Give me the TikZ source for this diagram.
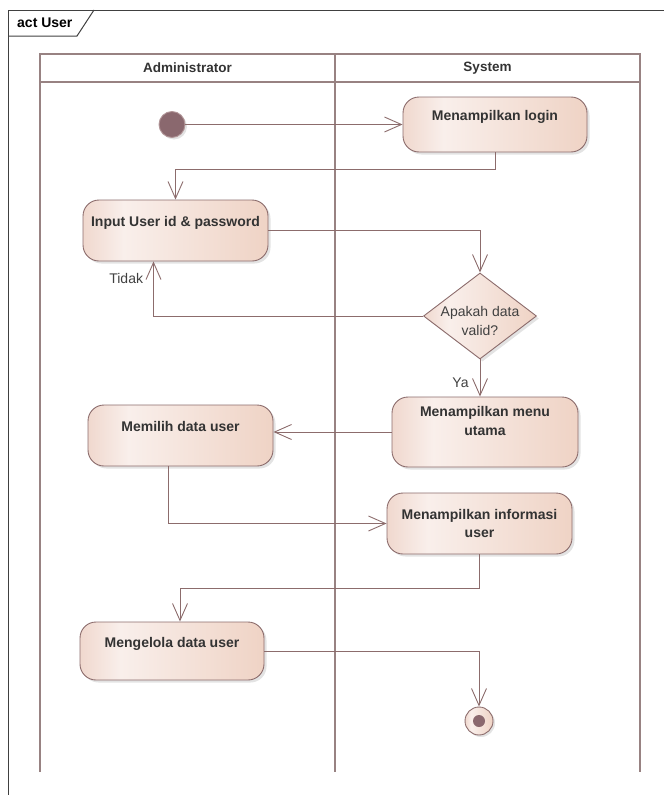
\documentclass[tikz,border=0pt]{standalone}
\usepackage{fontspec}
\setmainfont{Liberation Sans}
\usetikzlibrary{calc, positioning, shapes.geometric, arrows.meta, shadows}

\definecolor{framecol}{RGB}{64,64,64}
\definecolor{lanecol}{RGB}{152,130,130}
\definecolor{edgecol}{RGB}{140,108,108}
\definecolor{actleft}{RGB}{240,216,206}
\definecolor{actlight}{RGB}{249,239,235}
\definecolor{actright}{RGB}{239,211,197}
\definecolor{dotcol}{RGB}{138,104,110}
\definecolor{txtcol}{RGB}{51,51,51}

\pgfdeclarehorizontalshading{actshade}{100bp}{color(0bp)=(actleft); color(25bp)=(actleft); color(36bp)=(actlight); color(75bp)=(actright); color(100bp)=(actright)}

\tikzset{
  lane/.style={draw=lanecol, line width=1.8pt},
  frametitle/.style={font=\fontsize{14}{17}\selectfont\bfseries, text=black, inner sep=0pt},
  lanehead/.style={font=\fontsize{13.5}{16}\selectfont\bfseries, text=txtcol},
  action/.style={draw=edgecol, line width=0.9pt, rounded corners=16pt, shading=actshade,
    drop shadow={shadow xshift=2.5pt, shadow yshift=-2.5pt, fill=black!22},
    font=\fontsize{14}{18.5}\selectfont\bfseries, text=txtcol, align=center, inner sep=0pt},
  oneline/.style={text depth=18pt},
  decision/.style={diamond, draw=edgecol, line width=0.9pt, shading=actshade, aspect=1.3,
    drop shadow={shadow xshift=2.5pt, shadow yshift=-2.5pt, fill=black!22},
    minimum width=113pt, minimum height=86pt, inner sep=0pt},
  startnode/.style={circle, draw={rgb,255:red,178;green,150;blue,152}, line width=0.9pt, fill=dotcol,
    drop shadow={shadow xshift=2pt, shadow yshift=-2pt, fill=black!22}, minimum size=26pt, inner sep=0pt},
  endnode/.style={circle, draw=edgecol, line width=0.9pt, shading=actshade,
    drop shadow={shadow xshift=2pt, shadow yshift=-2pt, fill=black!22}, minimum size=28pt, inner sep=0pt,
    path picture={\fill[dotcol] (path picture bounding box.center) circle (6pt);}},
  guard/.style={font=\fontsize{14}{18.5}\selectfont, text={rgb,255:red,64;green,64;blue,64}, inner sep=1pt},
  flow/.style={draw=edgecol, line width=0.9pt, -{Straight Barb[length=17pt,width=15pt]}}
}

\begin{document}
\begin{tikzpicture}[x=1pt, y=-1pt]
\useasboundingbox (0,0) rectangle (664,795);

% frame
\draw[framecol, line width=1pt] (8,795) -- (8,10) -- (664,10);
\draw[framecol, line width=1pt] (8,36) -- (77,36) -- (94,10);
\node[frametitle, anchor=west] (title) at (17,23) {act User};

% swimlanes
\draw[lane] (40,772) -- (40,54) -- (640,54) -- (640,772);
\draw[lane] (40,82) -- (640,82);
\draw[lane] (335,54) -- (335,772);
\node[lanehead] (admin) at (187.5,68) {Administrator};
\node[lanehead] (system) at (487.5,68) {System};

% activities
\node[startnode] (start) at (172,124.5) {};
\node[action, oneline, minimum width=184pt, minimum height=55pt] (login) at (495,124.5) {Menampilkan login};
\node[action, oneline, minimum width=185pt, minimum height=61pt] (input) at (175.5,230.5) {Input User id \& password};
\node[decision] (valid) at (480,316) {};
\node[guard, align=center] (validtext) at ([yshift=-5pt]valid.center) {Apakah data\\valid?};
\node[action, minimum width=186pt, minimum height=70pt] (menu) at (485,432) {\strut Menampilkan menu\\utama\\[6pt]};
\node[action, oneline, minimum width=185pt, minimum height=61pt] (pilih) at (180.5,435.5) {Memilih data user};
\node[action, minimum width=185pt, minimum height=61pt] (info) at (479.5,523.5) {Menampilkan informasi\\user};
\node[action, oneline, minimum width=184pt, minimum height=58pt] (kelola) at (172,651) {Mengelola data user};
\node[endnode] (stop) at (479,721) {};

% flows
\draw[flow] (start) -- (login);
\draw[flow] (login.south) -- ++(0,17) -| (input.north);
\draw[flow] (input.east) -| (valid.north);
\draw[flow] (valid.west) -| ([xshift=-22pt]input.south) node[pos=0.84, left=9pt, guard] (tidak) {Tidak};
\draw[flow] (valid.south) -- (valid.south |- menu.north) node[pos=0.63, left=10pt, guard] (ya) {Ya};
\draw[flow] (menu.west) -- (menu.west -| pilih.east);
\draw[flow] ([xshift=-12pt]pilih.south) |- (info.west);
\draw[flow] (info.south) -- ++(0,34) -| ([xshift=8pt]kelola.north);
\draw[flow] (kelola.east) -| (stop.north);
\end{tikzpicture}
\end{document}
